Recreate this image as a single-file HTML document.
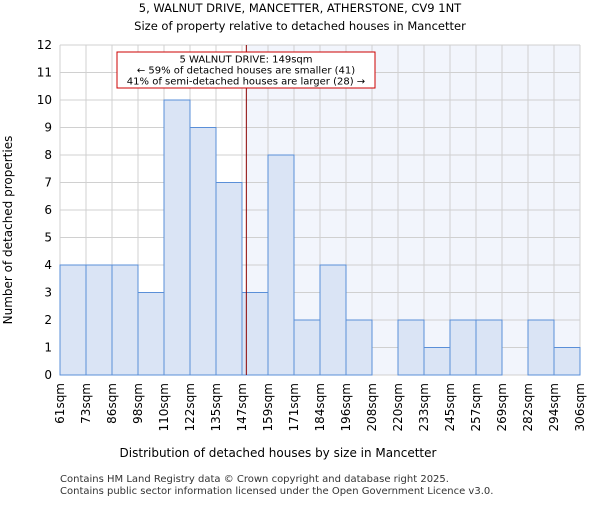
<!DOCTYPE html>
<html><head><meta charset="utf-8"><style>body{margin:0;background:#fff}svg{font-family:"DejaVu Sans","Liberation Sans",sans-serif}</style></head>
<body>
<svg id="c" width="600" height="500" viewBox="0 0 600 500">
<text x="300" y="12" text-anchor="middle" font-size="11.5">5, WALNUT DRIVE, MANCETTER, ATHERSTONE, CV9 1NT</text>
<text x="300" y="30" text-anchor="middle" font-size="11.5">Size of property relative to detached houses in Mancetter</text>
<g id="plot"></g>
<text x="278" y="457" text-anchor="middle" font-size="12">Distribution of detached houses by size in Mancetter</text>
<text x="12" y="230" text-anchor="middle" font-size="12" transform="rotate(-90 12 230)">Number of detached properties</text>
<text x="60" y="482" font-size="10" fill="#333">Contains HM Land Registry data © Crown copyright and database right 2025.</text>
<text x="60" y="494" font-size="10" fill="#333">Contains public sector information licensed under the Open Government Licence v3.0.</text>
</svg>
<script>
const categories=["61sqm","73sqm","86sqm","98sqm","110sqm","122sqm","135sqm","147sqm","159sqm","171sqm","184sqm","196sqm","208sqm","220sqm","233sqm","245sqm","257sqm","269sqm","282sqm","294sqm","306sqm"];
const counts=[4,4,4,3,10,9,7,3,8,2,4,2,0,2,1,2,2,0,2,1];
const yTicks=[0,1,2,3,4,5,6,7,8,9,10,11,12];
const binStarts=[61,73,86,98,110,122,135,147,159,171,184,196,208,220,233,245,257,269,282,294,306];
const markerValue=149;
const NS="http://www.w3.org/2000/svg";
const X0=60,X1=580,Y0=375,Y1=45,yMax=12;
const bw=(X1-X0)/counts.length;
const xPos=i=>X0+i*bw;
const yPos=v=>Y0-(Y0-Y1)*v/yMax;
const xVal=v=>{for(let i=0;i<binStarts.length-1;i++){if(v>=binStarts[i]&&v<=binStarts[i+1])return xPos(i)+bw*(v-binStarts[i])/(binStarts[i+1]-binStarts[i]);}return X1;};
const g=document.getElementById('plot');
function el(t,a){const e=document.createElementNS(NS,t);for(const k in a)e.setAttribute(k,a[k]);g.appendChild(e);return e;}
const mx=xVal(markerValue);
let r=el('rect',{x:mx,y:Y1,width:X1-mx,height:Y0-Y1,fill:'#f2f5fc'});


yTicks.forEach(t=>{let l=el('line',{x1:X0,x2:X1,y1:yPos(t),y2:yPos(t),stroke:'#d0d0d0'});


let tx=el('text',{x:X0-8,y:yPos(t)+4,'text-anchor':'end','font-size':12});tx.textContent=t;

});
categories.forEach((c,i)=>{let l=el('line',{x1:xPos(i),x2:xPos(i),y1:Y1,y2:Y0,stroke:'#d0d0d0'});


let x=xPos(i)+4,y=Y0+8;let tx=el('text',{x:x,y:y,'text-anchor':'end','font-size':12,transform:`rotate(-90 ${x} ${y})`});tx.textContent=c;

});
counts.forEach((v,i)=>{if(v<=0)return;let b=el('rect',{x:xPos(i),y:yPos(v),width:bw,height:Y0-yPos(v),fill:'#dae4f5',stroke:'#5a8fd8','stroke-width':1});

});
let ml=el('line',{x1:mx,x2:mx,y1:Y1,y2:Y0,stroke:'#8b0000','stroke-width':1});


let box=el('rect',{x:117,y:52,width:258,height:36,fill:'#fff',stroke:'#cc0000'});


["5 WALNUT DRIVE: 149sqm","← 59% of detached houses are smaller (41)","41% of semi-detached houses are larger (28) →"].forEach((s,i)=>{let t=el('text',{x:246,y:62.5+i*11,'text-anchor':'middle','font-size':10});t.textContent=s;

});
</script>
</body></html>
